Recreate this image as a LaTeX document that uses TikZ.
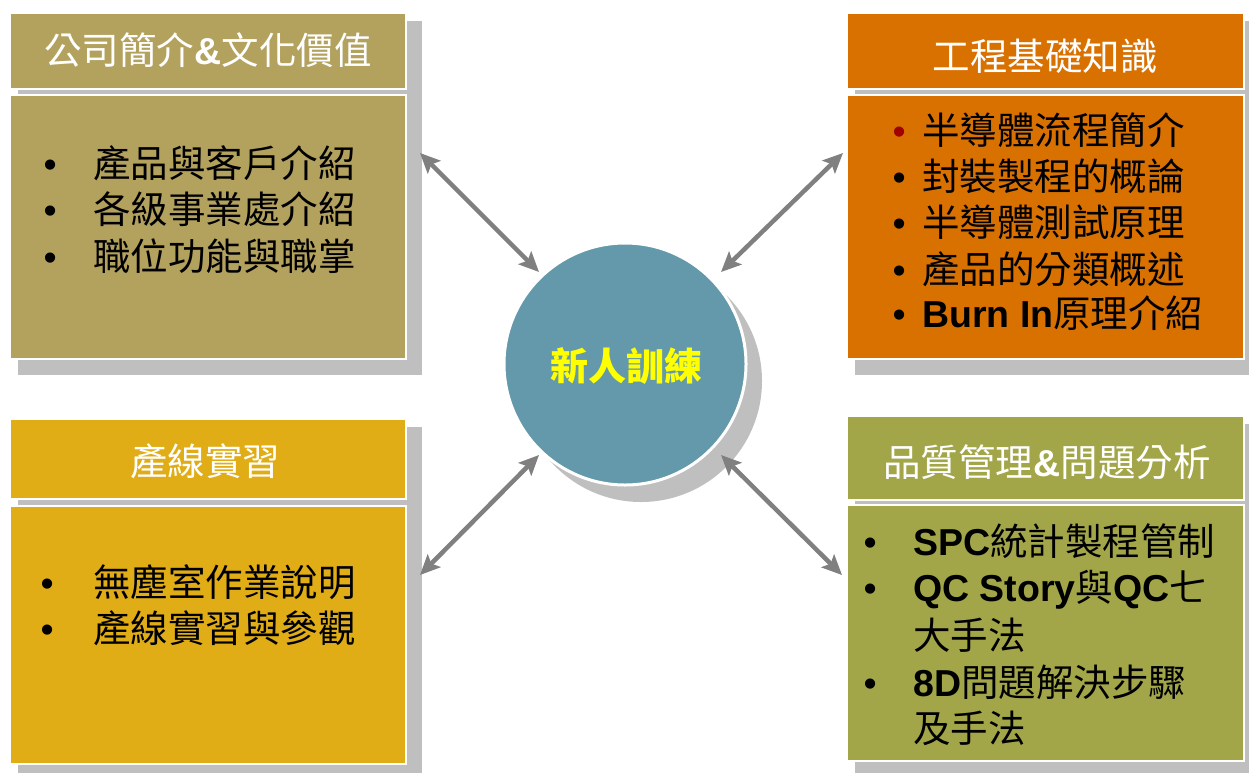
\documentclass[tikz,border=0pt]{standalone}
\usepackage{fontspec}
\setmainfont{Liberation Sans}
\newfontfamily\cjkf{Noto Sans CJK TC}
\usetikzlibrary{arrows.meta}
\definecolor{cTan}{HTML}{B3A15E}
\definecolor{cOrange}{HTML}{D97100}
\definecolor{cGold}{HTML}{E0AD16}
\definecolor{cOlive}{HTML}{A2A648}
\definecolor{cTeal}{HTML}{6399AA}
\definecolor{cShadow}{HTML}{BFBFBF}
\definecolor{cArrow}{HTML}{808080}
\definecolor{cRed}{HTML}{A00000}
\definecolor{cYellow}{HTML}{FFFF00}
\newcommand\bul[2][black]{\llap{\makebox[0pt]{\normalfont\color{#1}•}\hspace{#2}}}
\newcommand\lb[1]{{\normalfont\bfseries #1}}
\begin{document}
\begin{tikzpicture}[x=1pt,y=-1pt,
  box/.style={anchor=north west, inner sep=0pt, draw=white, line width=1.5pt},
  hd/.style={inner sep=0pt, text=white, font=\cjkf\fontsize{37.5}{45}\selectfont},
  ln/.style={anchor=base west, inner sep=0pt, font=\cjkf\fontsize{37.5}{45}\selectfont},
  tip/.style={Stealth[length=20pt,width=18pt,inset=4pt]},
  arr/.style={draw=cArrow, line width=4.5pt, {Stealth[length=20pt,width=18pt,inset=4pt]}-{Stealth[length=20pt,width=18pt,inset=4pt]}}]
\useasboundingbox (0,0) rectangle (1249,774);
\clip (0,0) rectangle (1249,774);
% shadows
\fill[cShadow] (18,21) rectangle (422,375);
\fill[cShadow] (855,21) rectangle (1262,375);
\fill[cShadow] (18,427) rectangle (422,773);
\fill[cShadow] (855,424) rectangle (1262,773);
% boxes
\node[box, fill=cTan, minimum width=396pt, minimum height=76pt] (tlh) at (9,12) {};
\node[box, fill=cTan, minimum width=396pt, minimum height=264pt] (tlb) at (9,94) {};
\node[box, fill=cOrange, minimum width=397pt, minimum height=76pt] (trh) at (846,12) {};
\node[box, fill=cOrange, minimum width=397pt, minimum height=264pt] (trb) at (846,94) {};
\node[box, fill=cGold, minimum width=396pt, minimum height=80pt] (blh) at (9,418) {};
\node[box, fill=cGold, minimum width=396pt, minimum height=258pt] (blb) at (9,505) {};
\node[box, fill=cOlive, minimum width=397pt, minimum height=84pt] (brh) at (846,415) {};
\node[box, fill=cOlive, minimum width=397pt, minimum height=256pt] (brb) at (846,504) {};
% centre circle
\fill[cShadow] (641,381) circle (121);
\node[circle, fill=cTeal, draw=white, line width=3pt, minimum size=242pt, inner sep=0pt] (c) at (625,364) {};
\node[inner sep=0pt, text=cYellow, font=\cjkf\bfseries\fontsize{38}{45}\selectfont] (ct) at (626,366) {新人訓練};
% arrows
\coordinate (a1s) at (420,153); \coordinate (a1e) at (539,272);
\coordinate (a2s) at (843,153); \coordinate (a2e) at (721,272);
\coordinate (a3s) at (420,575); \coordinate (a3e) at (539,455);
\coordinate (a4s) at (842,575); \coordinate (a4e) at (721,455);
\draw[arr] (a1s) -- (a1e);
\draw[arr] (a2s) -- (a2e);
\draw[arr] (a3s) -- (a3e);
\draw[arr] (a4s) -- (a4e);
% headers
\node[hd] (tlt) at (208,50) {公司簡介\lb{\&}文化價值};
\node[hd] (trt) at (1045,56) {工程基礎知識};
\node[hd] (blt) at (205,461) {產線實習};
\node[hd] (brt) at (1047,462) {品質管理\lb{\&}問題分析};
% top-left body
\node[ln] (tl1) at (93,177) {\bul{43pt}產品與客戶介紹};
\node[ln] (tl2) at (93,223) {\bul{43pt}各級事業處介紹};
\node[ln] (tl3) at (93,270) {\bul{43pt}職位功能與職掌};
% top-right body
\node[ln] (tr1) at (922,144) {\bul[cRed]{23pt}半導體流程簡介};
\node[ln] (tr2) at (922,190) {\bul{23pt}封裝製程的概論};
\node[ln] (tr3) at (922,236) {\bul{23pt}半導體測試原理};
\node[ln] (tr4) at (922,283) {\bul{23pt}產品的分類概述};
\node[ln] (tr5) at (922,327) {\bul{23pt}\lb{Burn In}原理介紹};
% bottom-left body
\node[ln] (bl1) at (93,596) {\bul{46pt}無塵室作業說明};
\node[ln] (bl2) at (93,642) {\bul{46pt}產線實習與參觀};
% bottom-right body
\node[ln] (br1) at (913,555) {\bul{43pt}\lb{SPC}統計製程管制};
\node[ln] (br2) at (913,601) {\bul{43pt}\lb{QC Story}與\lb{QC}七};
\node[ln] (br3) at (913,649) {大手法};
\node[ln] (br4) at (913,696) {\bul{43pt}\lb{8D}問題解決步驟};
\node[ln] (br5) at (913,742) {及手法};
\end{tikzpicture}
\end{document}
